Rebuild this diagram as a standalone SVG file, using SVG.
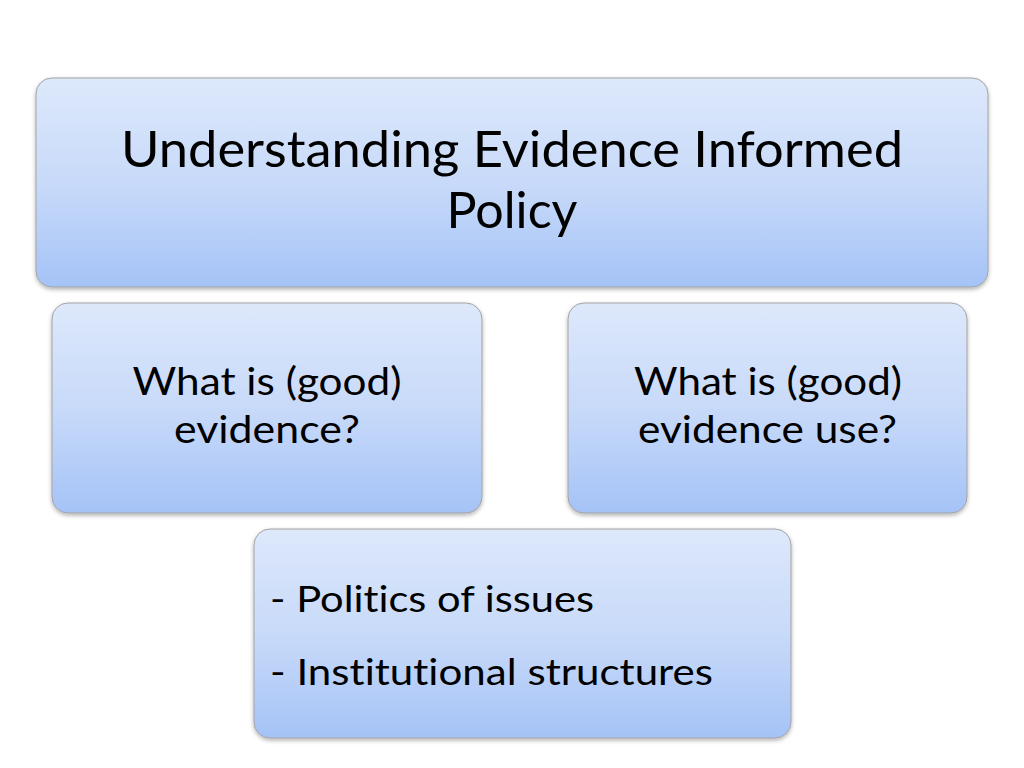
<svg xmlns="http://www.w3.org/2000/svg" width="1024" height="768" viewBox="0 0 1024 768">
<style>
.box{fill:url(#g);stroke:#a3a3a3;stroke-width:1;filter:url(#sh)}
text{font-family:Lato,"Open Sans","Liberation Sans",sans-serif;fill:#000;font-variant-ligatures:none;font-feature-settings:"liga" 0,"dlig" 0}
.c{text-anchor:middle}
</style>
<defs>
<linearGradient id="g" x1="0" y1="0" x2="0" y2="1">
<stop offset="0" stop-color="#dde8fb"/>
<stop offset="0.5" stop-color="#c8daf9"/>
<stop offset="1" stop-color="#a5c3f7"/>
</linearGradient>
<filter id="sh" x="-5%" y="-5%" width="110%" height="115%">
<feDropShadow dx="0" dy="2" stdDeviation="2" flood-color="#000" flood-opacity="0.3"/>
</filter>
</defs>
<rect width="1024" height="768" fill="#fff"/>
<g id="connectors"></g>
<g id="title">
<rect class="box" x="36" y="78" width="952" height="209" rx="16"/>
<text class="c" x="512" y="167" font-size="50" textLength="782" lengthAdjust="spacingAndGlyphs">Understanding Evidence Informed</text>
<text class="c" x="512" y="228" font-size="50" textLength="131" lengthAdjust="spacingAndGlyphs">Policy</text>
</g>
<g id="evidence">
<rect class="box" x="52" y="303" width="430" height="210" rx="16"/>
<text class="c" x="267" y="395" font-size="39.5" textLength="269" lengthAdjust="spacingAndGlyphs">What is (good)</text>
<text class="c" x="267" y="443" font-size="39.5" textLength="186" lengthAdjust="spacingAndGlyphs">evidence?</text>
</g>
<g id="evidence-use">
<rect class="box" x="568" y="303" width="399" height="210" rx="16"/>
<text class="c" x="768" y="395" font-size="39.5" textLength="268" lengthAdjust="spacingAndGlyphs">What is (good)</text>
<text class="c" x="767.5" y="443" font-size="39.5" textLength="259" lengthAdjust="spacingAndGlyphs">evidence use?</text>
</g>
<g id="factors">
<rect class="box" x="254" y="529" width="537" height="209" rx="16"/>
<text x="270" y="612" font-size="37" textLength="324" lengthAdjust="spacingAndGlyphs">- Politics of issues</text>
<text x="270" y="685" font-size="37" textLength="443" lengthAdjust="spacingAndGlyphs">- Institutional structures</text>
</g>
</svg>
